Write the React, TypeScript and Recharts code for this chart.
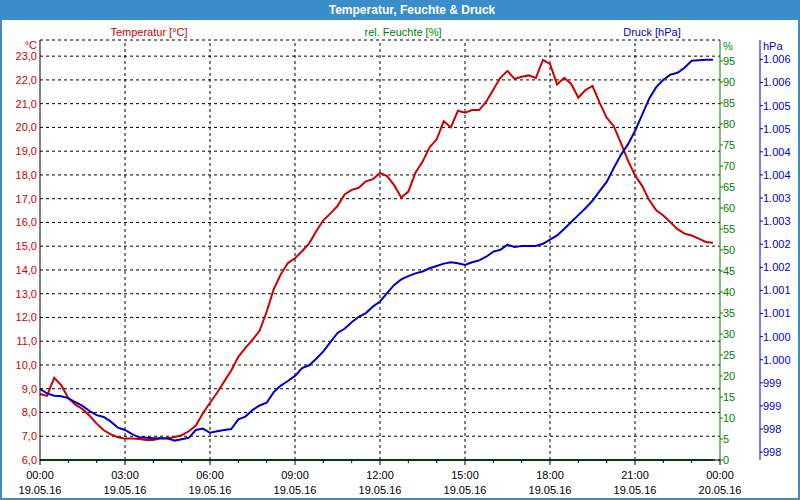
import React from 'react';
import { LineChart, Line, XAxis, YAxis, CartesianGrid, ReferenceLine } from 'recharts';

const FRAME = '#3a8dc8';
const RED = '#cc0000';
const GREEN = '#008000';
const BLUE = '#0000cc';
const FONT = '"Liberation Sans", Arial, sans-serif';

// readings every 15 minutes, 19.05.16 00:00 .. 23:45
const temperature = [
  8.78, 8.7, 9.46, 9.15, 8.6, 8.33, 8.14, 7.86, 7.53, 7.25, 7.08, 6.96,
  6.9, 6.9, 6.88, 6.84, 6.84, 6.91, 6.91, 6.97, 7.04, 7.21, 7.45, 7.97,
  8.41, 8.83, 9.3, 9.77, 10.34, 10.72, 11.06, 11.44, 12.24, 13.19, 13.82, 14.29,
  14.49, 14.79, 15.12, 15.63, 16.09, 16.38, 16.69, 17.18, 17.37, 17.46, 17.73, 17.82,
  18.08, 17.95, 17.57, 17.05, 17.3, 18.09, 18.55, 19.16, 19.5, 20.26, 20.0, 20.7,
  20.62, 20.73, 20.73, 21.08, 21.6, 22.09, 22.38, 22.04, 22.13, 22.19, 22.08, 22.84,
  22.67, 21.81, 22.09, 21.83, 21.25, 21.57, 21.75, 21.04, 20.41, 20.05, 19.35, 18.61,
  17.98, 17.54, 16.94, 16.51, 16.29, 16.01, 15.72, 15.53, 15.45, 15.32, 15.18, 15.15,
];

const pressure = [
  999.17, 999.07, 999.02, 999.01, 998.97, 998.88, 998.8, 998.69, 998.6, 998.56, 998.46, 998.33,
  998.28, 998.19, 998.12, 998.11, 998.1, 998.1, 998.1, 998.05, 998.08, 998.11, 998.28, 998.31,
  998.22, 998.25, 998.28, 998.3, 998.51, 998.57, 998.71, 998.81, 998.87, 999.1, 999.24, 999.34,
  999.45, 999.62, 999.68, 999.82, 999.98, 1000.18, 1000.38, 1000.47, 1000.61, 1000.73, 1000.81, 1000.95,
  1001.06, 1001.24, 1001.42, 1001.54, 1001.61, 1001.67, 1001.71, 1001.78, 1001.83, 1001.88, 1001.91, 1001.89,
  1001.85, 1001.91, 1001.95, 1002.03, 1002.14, 1002.18, 1002.29, 1002.24, 1002.26, 1002.26, 1002.26, 1002.31,
  1002.4, 1002.49, 1002.63, 1002.78, 1002.93, 1003.08, 1003.24, 1003.45, 1003.65, 1003.95, 1004.23, 1004.46,
  1004.75, 1005.1, 1005.45, 1005.7, 1005.86, 1005.97, 1006.01, 1006.12, 1006.27, 1006.28, 1006.29, 1006.29,
];

// humidity sensor delivered 0 % the whole day
const humidity = new Array(temperature.length).fill(0);
const hours = temperature.map((_, i) => i * 0.25);

const hourTicks = [0, 1, 2, 3, 4, 5, 6, 7, 8, 9, 10, 11, 12, 13, 14, 15, 16, 17, 18, 19, 20, 21, 22, 23, 24];
const gridHours = [3, 6, 9, 12, 15, 18, 21];
const timeLabels = ['00:00', '03:00', '06:00', '09:00', '12:00', '15:00', '18:00', '21:00', '00:00'];
const dateLabels = ['19.05.16', '19.05.16', '19.05.16', '19.05.16', '19.05.16', '19.05.16', '19.05.16', '19.05.16', '20.05.16'];
const tempTicks = [6, 7, 8, 9, 10, 11, 12, 13, 14, 15, 16, 17, 18, 19, 20, 21, 22, 23];
const humTicks = [0, 5, 10, 15, 20, 25, 30, 35, 40, 45, 50, 55, 60, 65, 70, 75, 80, 85, 90, 95];
const presTicks = [
  997.8, 998.3, 998.8, 999.3, 999.8, 1000.3, 1000.8, 1001.3, 1001.8,
  1002.3, 1002.8, 1003.3, 1003.8, 1004.3, 1004.8, 1005.3, 1005.8, 1006.3,
];

const data = hours.map((t, i) => ({ t, temp: temperature[i], hum: humidity[i], pres: pressure[i] }));

const fmtTemp = (v: number) => v.toFixed(1).replace('.', ',');
const fmtPres = (v: number) => {
  const r = Math.round(v);
  return r >= 1000 ? '1.' + String(r - 1000).padStart(3, '0') : String(r);
};

function TimeTick({ x, y, payload }: any) {
  const h = payload.value;
  const major = h % 3 === 0;
  const idx = h / 3;
  return (
    <g>
      <line x1={x} x2={x} y1={y} y2={y + (major ? 5 : 3)} stroke="#000" />
      {major && (
        <>
          <text x={x} y={y + 19} textAnchor="middle" fill="#000" fontSize={11} fontFamily={FONT}>
            {timeLabels[idx]}
          </text>
          <text x={x} y={y + 34} textAnchor="middle" fill="#000" fontSize={11} fontFamily={FONT}>
            {dateLabels[idx]}
          </text>
        </>
      )}
    </g>
  );
}

export default function App() {
  return (
    <div style={{ position: 'absolute', left: 0, top: 0, width: 800, height: 500, background: '#fff' }}>
      <LineChart width={800} height={500} data={data} margin={{ top: 40, right: 0, bottom: 0, left: 0 }}>
        <CartesianGrid yAxisId="temp" vertical={false} stroke="#000" strokeDasharray="3 3" />
        {gridHours.map((h) => (
          <ReferenceLine key={h} x={h} yAxisId="temp" stroke="#000" strokeDasharray="3 3" />
        ))}
        <XAxis
          dataKey="t"
          type="number"
          domain={[0, 24]}
          ticks={hourTicks}
          interval={0}
          height={40}
          tickSize={0}
          tickMargin={0}
          tickLine={false}
          axisLine={{ stroke: '#000' }}
          tick={<TimeTick />}
        />
        <XAxis
          xAxisId="top"
          dataKey="t"
          type="number"
          domain={[0, 24]}
          orientation="top"
          height={0}
          tick={false}
          tickLine={false}
          axisLine={{ stroke: '#000' }}
        />
        <YAxis
          yAxisId="temp"
          width={40}
          domain={[6, 23.68]}
          ticks={tempTicks}
          interval={0}
          tickFormatter={fmtTemp}
          tickSize={3}
          tickMargin={0}
          tickLine={false}
          axisLine={{ stroke: '#000' }}
          tick={{ fill: RED, fontSize: 11, fontFamily: FONT }}
        />
        <YAxis
          yAxisId="hum"
          orientation="right"
          width={40}
          domain={[0, 100]}
          ticks={humTicks}
          interval={0}
          tickSize={3}
          tickMargin={0}
          tickLine={{ stroke: GREEN }}
          axisLine={{ stroke: GREEN }}
          tick={{ fill: GREEN, fontSize: 11, fontFamily: FONT }}
        />
        <YAxis
          yAxisId="pres"
          orientation="right"
          width={40}
          domain={[997.63, 1006.72]}
          ticks={presTicks}
          interval={0}
          tickFormatter={fmtPres}
          tickSize={3}
          tickMargin={0}
          tickLine={{ stroke: BLUE }}
          axisLine={{ stroke: BLUE }}
          tick={{ fill: BLUE, fontSize: 11, fontFamily: FONT }}
        />
        <Line yAxisId="temp" dataKey="temp" type="linear" stroke={RED} strokeWidth={2} dot={false} isAnimationActive={false} />
        <Line yAxisId="pres" dataKey="pres" type="linear" stroke={BLUE} strokeWidth={2} dot={false} isAnimationActive={false} />
        <Line yAxisId="hum" dataKey="hum" type="linear" stroke={GREEN} strokeWidth={2} dot={false} isAnimationActive={false} />
      </LineChart>
      <svg
        width={800}
        height={500}
        style={{ position: 'absolute', left: 0, top: 0, pointerEvents: 'none' }}
        fontFamily={FONT}
        fontSize={11}
      >
        <rect x={0} y={0} width={800} height={20} fill={FRAME} />
        <text x={412} y={14} textAnchor="middle" fill="#fff" fontSize={12} fontWeight="bold">
          Temperatur, Feuchte &amp; Druck
        </text>
        <text x={149} y={36} textAnchor="middle" fill={RED}>Temperatur [°C]</text>
        <text x={403} y={36} textAnchor="middle" fill={GREEN}>rel. Feuchte [%]</text>
        <text x={652} y={36} textAnchor="middle" fill={BLUE}>Druck [hPa]</text>
        <text x={37} y={49} textAnchor="end" fill={RED}>°C</text>
        <text x={723} y={50} fill={GREEN}>%</text>
        <text x={763} y={50} fill={BLUE}>hPa</text>
        <rect x={1} y={1} width={798} height={498} fill="none" stroke={FRAME} strokeWidth={2} />
      </svg>
    </div>
  );
}
